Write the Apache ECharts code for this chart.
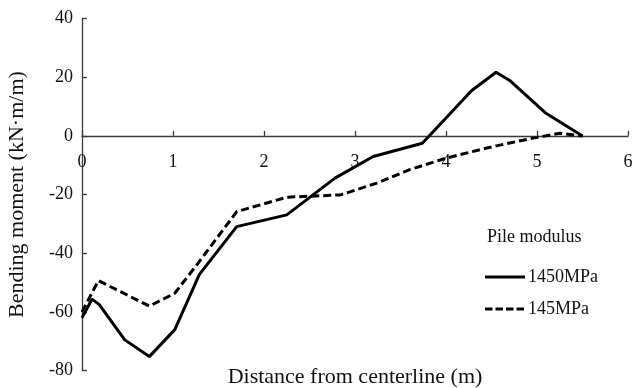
<!DOCTYPE html>
<html>
<head>
<meta charset="utf-8">
<script src="https://cdn.jsdelivr.net/npm/echarts@6/dist/echarts.min.js"></script>
<style>
  html, body { margin: 0; padding: 0; background: #fff; }
  #chart { width: 633px; height: 388px; }
</style>
</head>
<body>
<div id="chart"></div>
<script>
// Bending moment along the distance from the centerline, for two pile moduli
const seriesNames = ['1450MPa', '145MPa'];
const stiffX = [0, 0.11, 0.19, 0.47, 0.74, 1.02, 1.29, 1.70, 2.25, 2.78, 3.20, 3.74, 4.28, 4.55, 4.70, 5.09, 5.50];
const stiffM = [-62, -55.6, -57.5, -69.5, -75.2, -66, -47.2, -30.9, -26.9, -14.4, -7.0, -2.5, 15.4, 21.7, 18.9, 7.9, 0];
const softX = [0, 0.18, 0.74, 1.02, 1.26, 1.70, 2.25, 2.84, 3.24, 3.60, 4.00, 4.40, 4.70, 5.00, 5.25, 5.50];
const softM = [-60, -49.3, -58, -53.6, -44, -25.8, -20.9, -20.1, -16.1, -11.5, -7.6, -4.5, -2.4, -0.5, 0.9, 0];
const xTicks = [0, 1, 2, 3, 4, 5, 6];
const yTicks = [-80, -60, -40, -20, 0, 20, 40];

const pairs = (xs, ys) => xs.map((x, i) => [x, ys[i]]);
const font = '"Liberation Serif", "Times New Roman", serif';
const axisColor = '#3a3a3a';

// Plot box
const gridTop = 18.5, gridBottom = 17.3, chartH = 388;
const plotH = chartH - gridTop - gridBottom;
const yMin = yTicks[0], yMax = yTicks[yTicks.length - 1];
// Shift the x axis up from the bottom edge onto the zero line
const zeroShift = plotH * (0 - yMin) / (yMax - yMin);

// Legend keys: a 40x14 box holding a 3px bar (solid) or four dashes;
// the zero-area corner points fix the box so the bar is not stretched.
const box = 'M0,0L0.01,0Z M40,14L39.99,14Z ';
const solidKey = 'path://' + box + 'M0,5.5L40,5.5L40,8.5L0,8.5Z';
const dashedKey = 'path://' + box +
  'M0,5.5L7.5,5.5L7.5,8.5L0,8.5Z M10.5,5.5L18,5.5L18,8.5L10.5,8.5Z ' +
  'M21,5.5L28.5,5.5L28.5,8.5L21,8.5Z M31.5,5.5L39,5.5L39,8.5L31.5,8.5Z';

const chart = echarts.init(document.getElementById('chart'), null, { renderer: 'canvas' });
chart.setOption({
  backgroundColor: '#ffffff',
  animation: false,
  textStyle: { fontFamily: font, color: '#111' },
  title: {
    text: 'Pile modulus',
    left: 482,
    top: 223,
    textStyle: { fontFamily: font, fontSize: 18, fontWeight: 'normal', color: '#111' }
  },
  legend: {
    data: [
      { name: seriesNames[0], icon: solidKey },
      { name: seriesNames[1], icon: dashedKey }
    ],
    orient: 'vertical',
    left: 480,
    top: 263,
    itemWidth: 40,
    itemHeight: 14,
    itemGap: 14,
    textStyle: { fontFamily: font, fontSize: 18, color: '#111', padding: [0, 0, 0, -2] }
  },
  grid: { left: 82, right: 5, top: gridTop, bottom: gridBottom, containLabel: false, outerBoundsMode: 'none' },
  xAxis: {
    type: 'value',
    position: 'bottom',
    offset: -zeroShift,
    min: xTicks[0],
    max: xTicks[xTicks.length - 1],
    interval: 1,
    name: 'Distance from centerline (m)',
    nameLocation: 'middle',
    nameGap: 230,
    nameTextStyle: { fontFamily: font, fontSize: 22, color: '#111' },
    axisLine: { onZero: false, lineStyle: { color: axisColor, width: 1.3 } },
    axisTick: { inside: true, length: 5, lineStyle: { color: axisColor, width: 1.3 } },
    axisLabel: { margin: 17, fontFamily: font, fontSize: 18, color: '#111' },
    splitLine: { show: false }
  },
  yAxis: {
    type: 'value',
    min: yMin,
    max: yMax,
    interval: 20,
    name: 'Bending moment (kN\u00b7m/m)',
    nameLocation: 'middle',
    nameRotate: 90,
    nameGap: 54,
    nameTextStyle: { fontFamily: font, fontSize: 22, color: '#111' },
    axisLine: { show: true, onZero: false, lineStyle: { color: axisColor, width: 1.3 } },
    axisTick: { show: true, inside: true, length: 5, lineStyle: { color: axisColor, width: 1.3 } },
    axisLabel: { margin: 9, fontFamily: font, fontSize: 18, color: '#111' },
    splitLine: { show: false }
  },
  series: [
    {
      name: seriesNames[0],
      type: 'line',
      data: pairs(stiffX, stiffM),
      symbol: 'none',
      lineStyle: { color: '#000', width: 3, type: 'solid' },
      itemStyle: { color: '#000' }
    },
    {
      name: seriesNames[1],
      type: 'line',
      data: pairs(softX, softM),
      symbol: 'none',
      lineStyle: { color: '#000', width: 3, type: [8, 4] },
      itemStyle: { color: '#000' }
    }
  ]
});
</script>
</body>
</html>
